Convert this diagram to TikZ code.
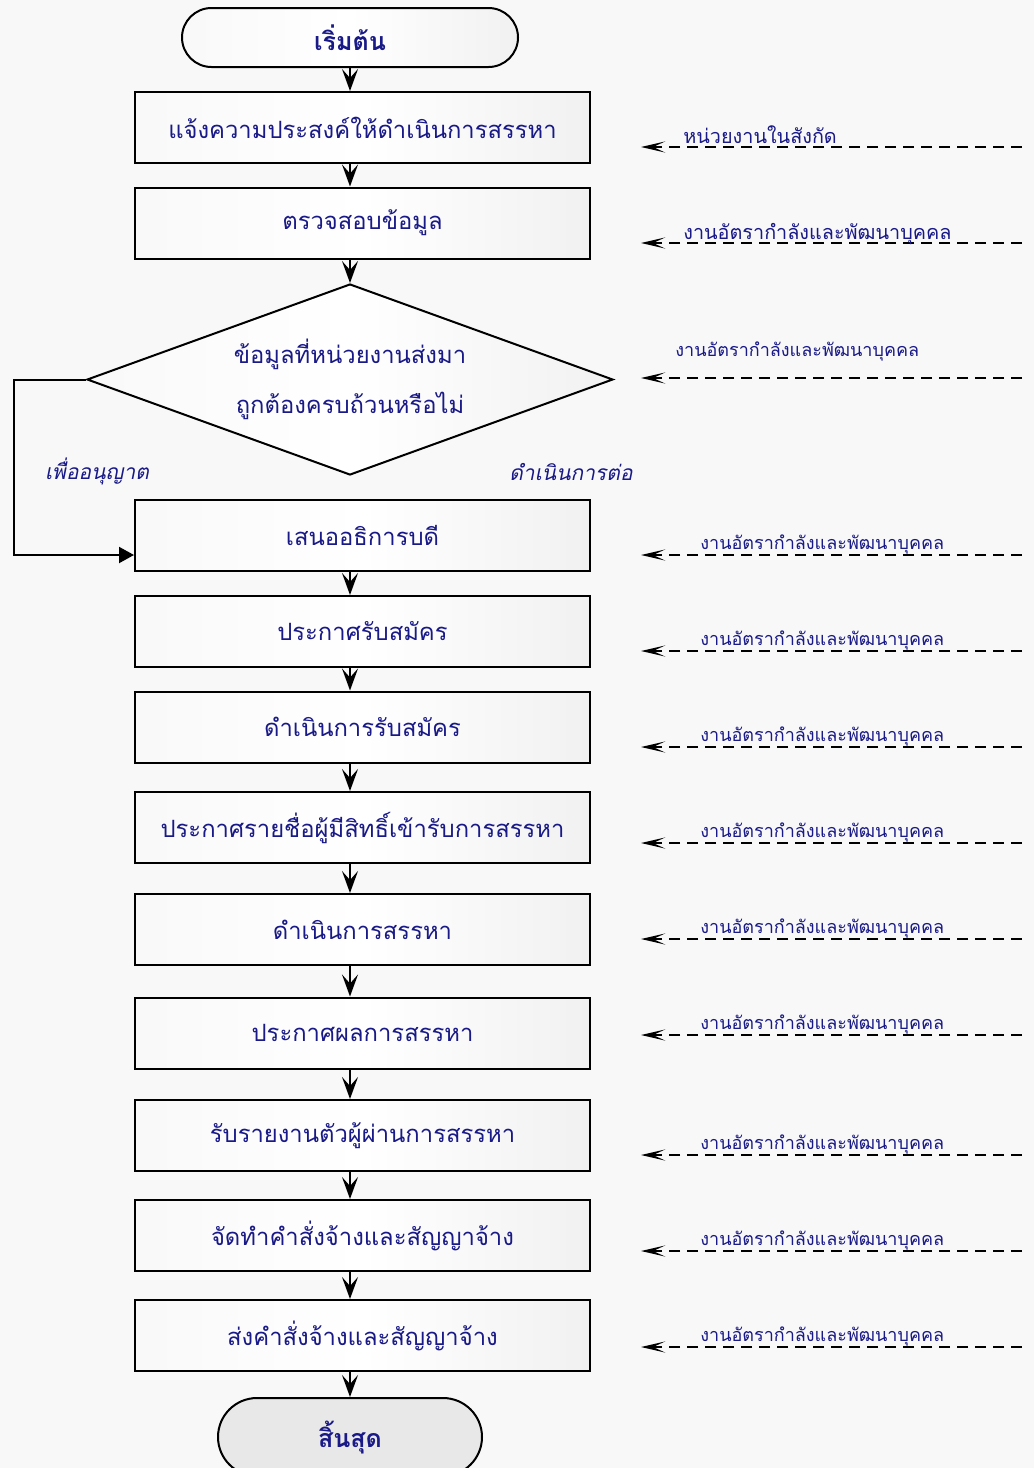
\documentclass[tikz,border=0pt]{standalone}
\usepackage{fontspec}
\newfontfamily\thai[Script=Thai]{Loma}
\newfontfamily\thaisl[Script=Thai,FakeSlant=0.2]{Loma}
\usetikzlibrary{shapes.geometric,shapes.misc,arrows.meta,calc}

\definecolor{bg}{RGB}{248,248,248}
\definecolor{ink}{RGB}{25,25,135}
\definecolor{endfill}{RGB}{232,232,232}

\newcommand\boxfont{\thai\fontsize{11.9}{25}\selectfont}
\newcommand\labfont{\thai\fontsize{9}{11}\selectfont}
\newcommand\labfontbig{\thai\fontsize{9.9}{12}\selectfont}

\begin{document}
\begin{tikzpicture}[x=0.5pt,y=-0.5pt,
  every node/.style={inner sep=0pt},
  grad/.style={left color=gray!5, right color=gray!11, middle color=white},
  stepbox/.style={draw, line width=1pt, grad, minimum width=227.5pt,
    minimum height=35.5pt, text=ink, font=\boxfont},
  decision/.style={draw, line width=1pt, grad, shape=diamond, aspect=2.75,
    minimum width=263pt, minimum height=95.5pt, text=ink, font=\boxfont,
    align=center},
  term/.style={draw, line width=1pt, shape=rounded rectangle, text=ink,
    font=\thai\fontsize{12.5}{15}\selectfont\bfseries},
  flow/.style={line width=1pt, -{Stealth[length=11pt,width=8pt,inset=4.5pt]}},
  loopback/.style={line width=1pt, -{Triangle[length=7.5pt,width=8pt]}},
  resp/.style={line width=1.4pt, dash pattern=on 5.5pt off 3.5pt,
    -{Stealth[length=12pt,width=5.5pt,inset=6pt]}},
  lab/.style={text=ink, font=\labfont, anchor=base west},
  labbig/.style={text=ink, font=\labfontbig, anchor=base west},
  cond/.style={text=ink, font=\thaisl\fontsize{10.5}{13}\selectfont},
]
% page background
\fill[bg] (0,0) rectangle (1034,1468);
\useasboundingbox (0,0) rectangle (1034,1468);

% terminators
\node[term, grad, minimum width=168pt, minimum height=29.5pt] (st) at (350,37.5) {เริ่มต้น};
\node[term, fill=endfill, minimum width=132pt, minimum height=39pt] (en) at (350,1437) {สิ้นสุด};

% process steps
\node[stepbox] (b1) at (362.5,127.5) {แจ้งความประสงค์ให้ดำเนินการสรรหา};
\node[stepbox] (b2) at (362.5,223) {ตรวจสอบข้อมูล};
\node[decision] (d) at (350,379.5) {ข้อมูลที่หน่วยงานส่งมา\\ถูกต้องครบถ้วนหรือไม่};
\node[stepbox] (b3) at (362.5,535) {เสนออธิการบดี};
\node[stepbox] (b4) at (362.5,631.5) {ประกาศรับสมัคร};
\node[stepbox] (b5) at (362.5,727) {ดำเนินการรับสมัคร};
\node[stepbox] (b6) at (362.5,827.5) {ประกาศรายชื่อผู้มีสิทธิ์เข้ารับการสรรหา};
\node[stepbox] (b7) at (362.5,929.5) {ดำเนินการสรรหา};
\node[stepbox] (b8) at (362.5,1033) {ประกาศผลการสรรหา};
\node[stepbox] (b9) at (362.5,1135.5) {รับรายงานตัวผู้ผ่านการสรรหา};
\node[stepbox] (b10) at (362.5,1235.5) {จัดทำคำสั่งจ้างและสัญญาจ้าง};
\node[stepbox] (b11) at (362.5,1335.5) {ส่งคำสั่งจ้างและสัญญาจ้าง};

% main flow
\foreach \a/\b in {st/b1,b1/b2,b2/d,b3/b4,b4/b5,b5/b6,b6/b7,b7/b8,b8/b9,b9/b10,b10/b11,b11/en}
  \draw[flow] (\a.south -| st) -- (\b.north -| st);

% permission loop from the decision
\draw[loopback] (d.west) -- ++(-72,0) |- ($(b3.west)+(0,20)$);
\node[cond] (yes) at (97,471) {เพื่ออนุญาต};
\node[cond] (cont) at (571,472) {ดำเนินการต่อ};

% responsible units
\foreach \y/\n in {147/1,243/2,378/3,555/4,651/5,747/6,843/7,939/8,1035/9,1155/10,1251/11,1347/12}{
  \coordinate (r\n) at (1022,\y);
  \coordinate (l\n) at (641,\y);
  \draw[resp] (r\n) -- (l\n);
}
\node[labbig] (u1) at (683,143) {หน่วยงานในสังกัด};
\node[labbig] (u2) at (683,239) {งานอัตรากำลังและพัฒนาบุคคล};
\node[lab] (u3) at (675,356) {งานอัตรากำลังและพัฒนาบุคคล};
\foreach \y/\n in {555/4,651/5,747/6,843/7,939/8,1035/9,1155/10,1251/11,1347/12}
  \node[lab] (u\n) at (700,\y-6) {งานอัตรากำลังและพัฒนาบุคคล};
\end{tikzpicture}
\end{document}
